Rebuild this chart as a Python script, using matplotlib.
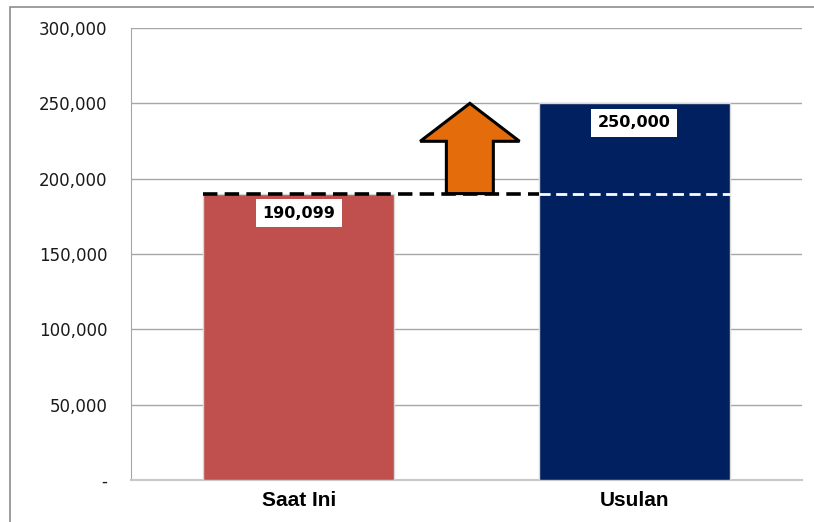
import matplotlib
matplotlib.use("Agg")
import matplotlib.pyplot as plt
from matplotlib.patches import Polygon, Rectangle
from matplotlib.ticker import FuncFormatter

# data
categories = ["Saat Ini", "Usulan"]
values = [190099, 250000]
bar_colors = ["#C0504D", "#002060"]
y_ticks = [0, 50000, 100000, 150000, 200000, 250000, 300000]

fig = plt.figure(figsize=(8.14, 5.22), dpi=100)

# outer chart border (cut off at right and bottom)
fig.patches.append(Rectangle((10 / 814, -0.05), 1.0, 1 - 7 / 522 + 0.05,
                             transform=fig.transFigure, fill=False,
                             edgecolor="#8c8c8c", linewidth=1.2))

ax = fig.add_axes([131 / 814, 42 / 522, 671 / 814, 452 / 522])

x = list(range(len(categories)))
width = 0.57
ax.bar(x, values, width=width, color=bar_colors, edgecolor="#d9d9d9",
       linewidth=1.0, zorder=3)

ax.set_xlim(-0.5, 1.5)
ax.set_ylim(0, 300000)
ax.set_yticks(y_ticks)
ax.yaxis.set_major_formatter(FuncFormatter(lambda v, p: "-" if v == 0 else f"{int(v):,}"))
ax.set_xticks(x)
ax.set_xticklabels(categories, fontfamily="Liberation Sans", fontweight="bold",
                   fontsize=15)
ax.tick_params(axis="y", length=0, pad=17, labelsize=12, labelcolor="#1a1a1a")
ax.tick_params(axis="x", length=0, pad=8)

ax.grid(axis="y", color="#a6a6a6", linewidth=1.0, zorder=0)
for s in ["top", "right"]:
    ax.spines[s].set_visible(False)
ax.spines["left"].set_color("#a6a6a6")
ax.spines["bottom"].set_color("#c8c8c8")
ax.spines["bottom"].set_linewidth(1.5)

# dashed reference line at current value
cur = values[0]
ax.plot([x[0] - width / 2, x[1] - width / 2], [cur, cur], color="black",
        linewidth=2.6, linestyle=(0, (4, 2)), zorder=5)
ax.plot([x[1] - width / 2, x[1] + width / 2], [cur, cur], color="white",
        linewidth=2.0, linestyle=(0, (4, 2)), zorder=5)

# up arrow from current to proposed value
ax_c = 0.51
shaft = 0.07
head = 0.148
head_len = 25200
tip = values[1]
arrow = Polygon([(ax_c - shaft, cur), (ax_c + shaft, cur),
                 (ax_c + shaft, tip - head_len), (ax_c + head, tip - head_len),
                 (ax_c, tip), (ax_c - head, tip - head_len),
                 (ax_c - shaft, tip - head_len)],
                closed=True, facecolor="#E46C0A", edgecolor="black",
                linewidth=2.2, zorder=6)
ax.add_patch(arrow)

# value labels
for xi, v in zip(x, values):
    ax.annotate(f"{v:,}", (xi, v), xytext=(0, -14), textcoords="offset points",
                ha="center", va="center", fontsize=11.5, fontweight="bold",
                bbox=dict(boxstyle="square,pad=0.4", facecolor="white",
                          edgecolor="none"), zorder=7)

fig.savefig("out.png", dpi=100)
